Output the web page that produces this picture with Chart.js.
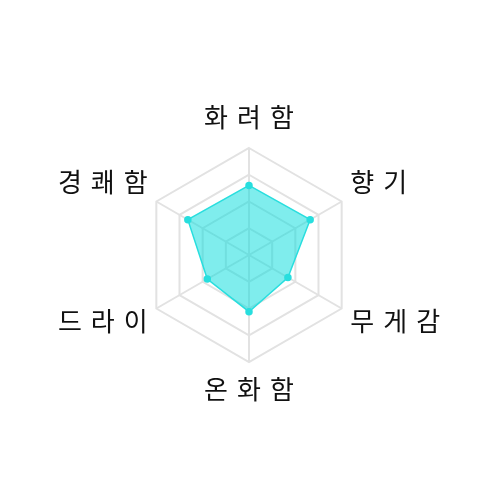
<!DOCTYPE html>
<html>
<head>
<meta charset="utf-8">
<script src="https://cdn.jsdelivr.net/npm/chart.js@4/dist/chart.umd.min.js"></script>
<style>
  html, body { margin: 0; padding: 0; background: #fff; }
  #wrap { width: 500px; height: 500px; }
</style>
</head>
<body>
<div id="wrap"><canvas id="radarChart"></canvas></div>
<script>
// 축 이름
var labels = ['화려함', '향기', '무게감', '온화함', '드라이', '경쾌함'];
// 값 (0~100)
var values = [65, 66, 42, 53, 45, 66];
var tickMax = 100;
var tickStep = 25;

var labelFont = '26px "Noto Sans CJK KR"';
var letterGap = 9;

// 글자 사이를 띄워서 축 이름 그리기
var labelPlugin = {
    id: 'spacedLabels',
    afterDraw: function (chart) {
        var scale = chart.scales.r;
        var c = chart.ctx;
        c.save();
        c.font = labelFont;
        c.fillStyle = '#111';
        c.textBaseline = 'middle';
        c.textAlign = 'left';
        labels.forEach(function (text, i) {
            var deg = Math.round(scale.getIndexAngle(i) * 180 / Math.PI) % 360;
            var chars = text.split('');
            var widths = chars.map(function (ch) { return c.measureText(ch).width; });
            var total = widths.reduce(function (a, b) { return a + b; }, 0) + letterGap * (chars.length - 1);
            var p, x, y;
            if (deg === 0) {
                p = scale.getPointPosition(i, scale.drawingArea + 31);
                x = p.x - total / 2; y = p.y;
            } else if (deg === 180) {
                p = scale.getPointPosition(i, scale.drawingArea + 27);
                x = p.x - total / 2; y = p.y;
            } else {
                p = scale.getPointPosition(i, scale.drawingArea + 10);
                x = deg < 180 ? p.x : p.x - total;
                y = (deg < 90 || deg > 270) ? p.y - 14 : p.y + 8;
            }
            chars.forEach(function (ch, k) {
                c.fillText(ch, x, y);
                x += widths[k] + letterGap;
            });
        });
        c.restore();
    }
};

var ctx = document.getElementById('radarChart');

var radarChart = new Chart(ctx, {
    type: 'radar',
    data: {
        labels: labels,
        datasets: [{
            data: values,
            backgroundColor: 'rgba(0, 220, 220, 0.5)',
            borderColor: 'rgba(40, 222, 222, 1)',
            borderWidth: 1.5,
            pointBackgroundColor: 'rgba(40, 222, 222, 1)',
            pointBorderColor: 'rgba(40, 222, 222, 1)',
            pointRadius: 3
        }]
    },
    plugins: [labelPlugin],
    options: {
        responsive: true,
        maintainAspectRatio: false,
        animation: false,
        layout: { padding: { top: 148, bottom: 138, left: 142, right: 144 } },
        plugins: {
            legend: { display: false },
            tooltip: { enabled: false }
        },
        scales: {
            r: {
                min: 0,
                max: tickMax,
                ticks: { stepSize: tickStep, display: false },
                grid: { color: '#e2e2e2', lineWidth: 2 },
                angleLines: { color: '#e2e2e2', lineWidth: 2 },
                pointLabels: { display: false }
            }
        }
    }
});
</script>
</body>
</html>
